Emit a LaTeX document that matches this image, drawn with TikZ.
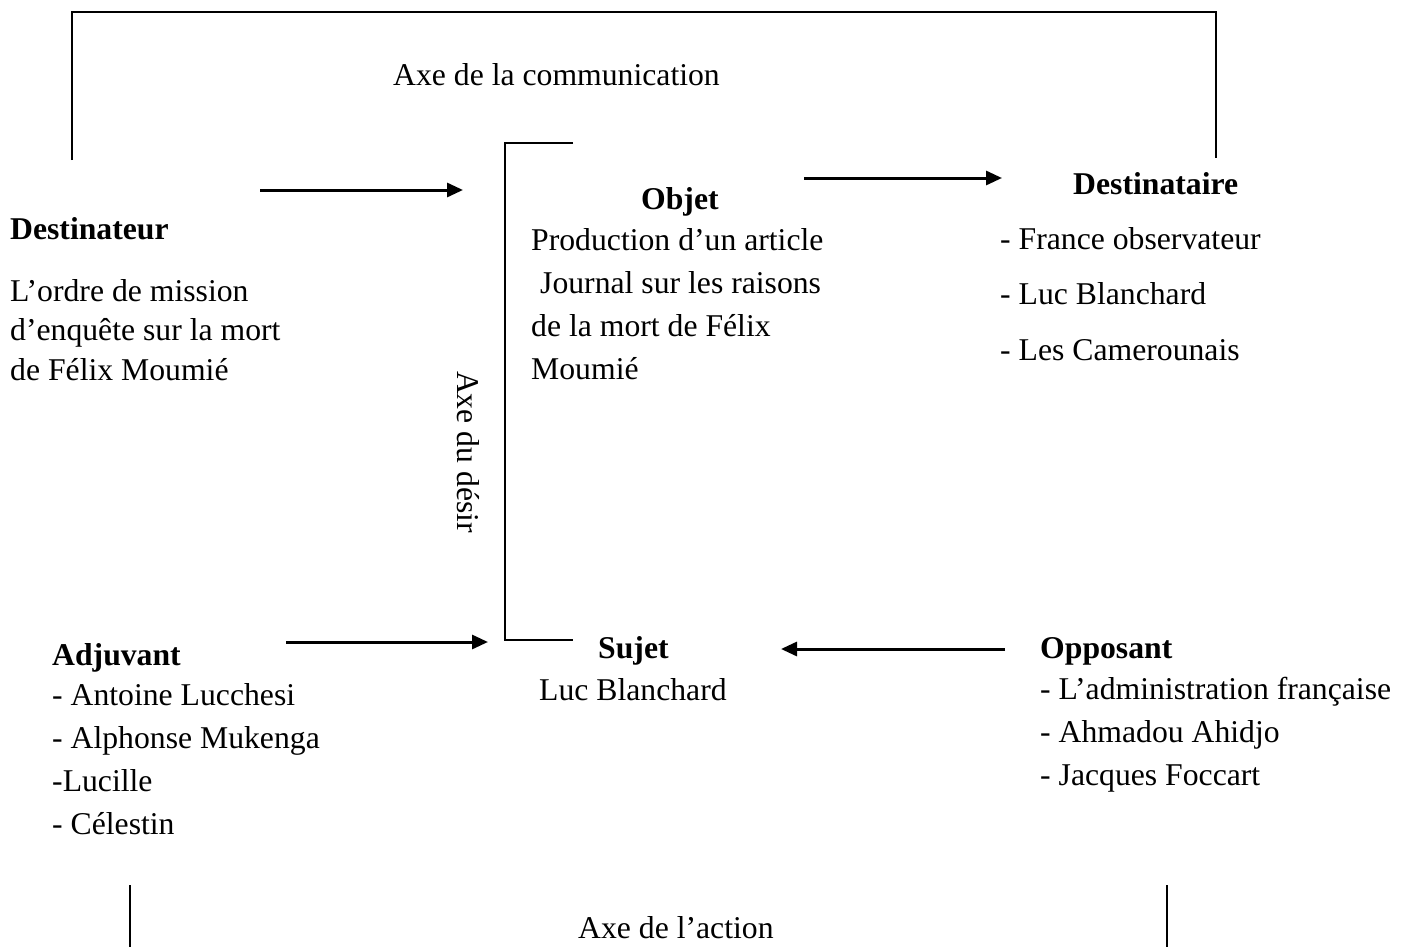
\documentclass[tikz,border=0pt]{standalone}
\usepackage{fontspec}
\setmainfont{Liberation Serif}
\usetikzlibrary{positioning,arrows.meta}

\begin{document}
\begin{tikzpicture}[x=1pt,y=-1pt,
    txt/.style={inner sep=0pt, anchor=base west, align=left, font=\fontsize{31.7}{43}\selectfont},
    ttl/.style={txt, font=\fontsize{31.7}{43}\selectfont\bfseries},
    axe/.style={line width=1.3pt},
    fleche/.style={line width=3pt, -{Triangle[length=16pt,width=14pt]}}]
    \useasboundingbox (0,0) rectangle (1413,947);

    % axes
    \draw [axe] (72,160) -- (72,12) -- (1216,12) -- (1216,158) ;
    \draw [axe] (573,143) -- (505,143) -- (505,640) -- (573,640) ;
    \draw [axe] (130,885) -- (130,947) ;
    \draw [axe] (1167,885) -- (1167,947) ;

    % Text Node
    \node [txt] (comm) at (393,86) {Axe de la communication};
    \node [txt] (action) at (578,938) {Axe de l’action};
    \node [txt, anchor=center, rotate=-90] (desir) at (468,452) {Axe du désir};

    % Destinateur
    \node [ttl] (dest) at (10,239) {Destinateur};
    \node [txt, font=\fontsize{31.7}{39.5}\selectfont] (destl) at (10,380) {L’ordre de mission\\d’enquête sur la mort\\de Félix Moumié};

    % Objet
    \node [ttl] (obj) at (641,209) {Objet};
    \node [txt, font=\fontsize{31.7}{42.7}\selectfont] (objl) at (531,379) {Production d’un article\\\hspace*{9pt}Journal sur les raisons\\de la mort de Félix\\Moumié};

    % Destinataire
    \node [ttl] (dtaire) at (1073,194) {Destinataire};
    \node [txt, font=\fontsize{31.7}{55.5}\selectfont] (dtairel) at (1000,360) {- France observateur\\- Luc Blanchard\\- Les Camerounais};

    % Adjuvant
    \node [ttl] (adj) at (52,665) {Adjuvant};
    \node [txt] (adjl) at (52,834) {- Antoine Lucchesi\\- Alphonse Mukenga\\-Lucille\\- Célestin};

    % Sujet
    \node [ttl] (suj) at (598,658) {Sujet};
    \node [txt] (sujl) at (539,700) {Luc Blanchard};

    % Opposant
    \node [ttl] (opp) at (1040,658) {Opposant};
    \node [txt] (oppl) at (1040,785) {- L’administration française\\- Ahmadou Ahidjo\\- Jacques Foccart};

    % fleches
    \coordinate (d1) at (260,190);
    \coordinate (d2) at (463,190);
    \coordinate (o1) at (804,178);
    \coordinate (o2) at (1002,178);
    \coordinate (a1) at (286,642);
    \coordinate (a2) at (488,642);
    \coordinate (p1) at (1005,649);
    \coordinate (p2) at (781,649);
    \draw [fleche] (d1) -- (d2) ;
    \draw [fleche] (o1) -- (o2) ;
    \draw [fleche] (a1) -- (a2) ;
    \draw [fleche] (p1) -- (p2) ;
\end{tikzpicture}
\end{document}
